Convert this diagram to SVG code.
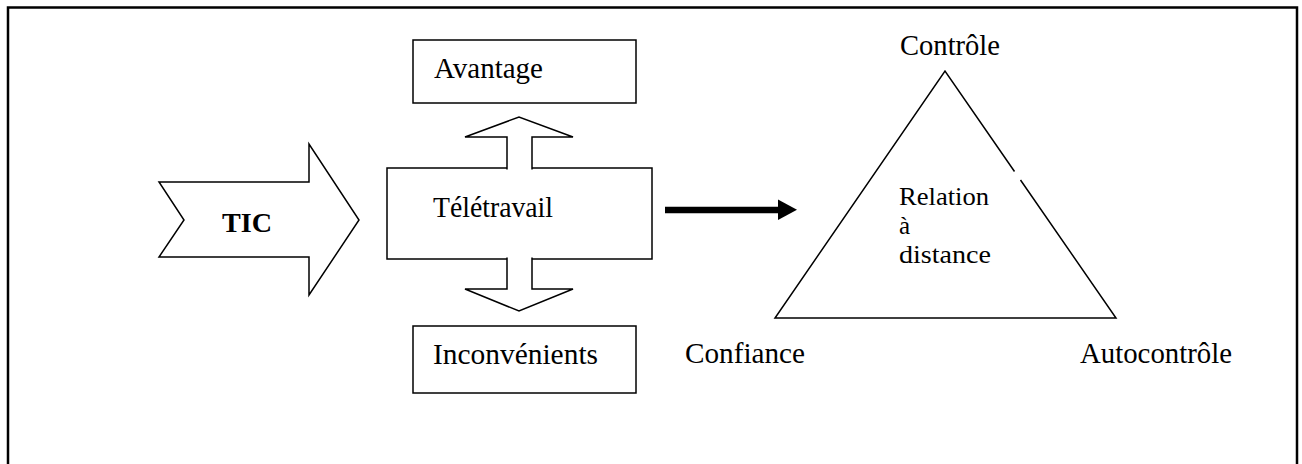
<svg xmlns="http://www.w3.org/2000/svg" width="1302" height="464" viewBox="0 0 1302 464">
  <style>
    .t { font-family: "Liberation Serif", "Times New Roman", serif; font-size: 30px; fill: #000; }
    .tb { font-family: "Liberation Serif", "Times New Roman", serif; font-size: 28px; font-weight: bold; fill: #000; }
    .ti { font-family: "Liberation Serif", "Times New Roman", serif; font-size: 25px; fill: #000; }
    .shape { fill: #fff; stroke: #000; stroke-width: 1.5; stroke-linejoin: miter; }
    .line { fill: none; stroke: #000; stroke-width: 1.5; }
  </style>
  <rect width="1302" height="464" fill="#fff"/>
  <g id="frame">
    <path d="M8,470 V7.5 H1297 V470" fill="none" stroke="#000" stroke-width="2.5"/>
  </g>
  <g id="tic">
    <polygon class="shape" points="159,182 309,182 309,144 359,220 309,295 309,257 159,257 184,220"/>
    <text class="tb" x="222" y="232" textLength="50" lengthAdjust="spacingAndGlyphs">TIC</text>
  </g>
  <g id="avantage">
    <rect class="shape" x="413" y="40" width="223" height="63"/>
    <text class="t" x="434" y="78" textLength="109" lengthAdjust="spacingAndGlyphs">Avantage</text>
  </g>
  <g id="teletravail">
    <rect class="shape" x="387" y="168" width="265" height="91"/>
    <text class="t" x="433" y="217" textLength="120" lengthAdjust="spacingAndGlyphs">Télétravail</text>
  </g>
  <g id="inconvenients">
    <rect class="shape" x="413" y="326" width="223" height="67"/>
    <text class="t" x="433" y="364" textLength="165" lengthAdjust="spacingAndGlyphs">Inconvénients</text>
  </g>
  <g id="connectors">
    <path class="shape" d="M507,169.6 V137 H465 L519,117 L573,137 H532 V169.6"/>
    <path class="shape" d="M507,257.4 V289 H465 L519,311 L573,289 H532 V257.4"/>
    <line x1="665" y1="210" x2="779" y2="210" stroke="#000" stroke-width="6.6"/>
    <polygon points="778,199.5 797,209.8 778,220" fill="#000"/>
  </g>
  <g id="relation">
    <path class="line" d="M1014.5,171.5 L945,71 L775,318 H1116 L1020.5,180"/>
    <text class="ti" x="899" y="205" textLength="90" lengthAdjust="spacingAndGlyphs">Relation</text>
    <text class="ti" x="899" y="234">à</text>
    <text class="ti" x="899" y="263" textLength="92" lengthAdjust="spacingAndGlyphs">distance</text>
  </g>
  <g id="controle">
    <text class="t" x="900" y="55" textLength="100" lengthAdjust="spacingAndGlyphs">Contrôle</text>
  </g>
  <g id="confiance">
    <text class="t" x="685" y="363" textLength="120" lengthAdjust="spacingAndGlyphs">Confiance</text>
  </g>
  <g id="autocontrole">
    <text class="t" x="1080" y="363" textLength="152" lengthAdjust="spacingAndGlyphs">Autocontrôle</text>
  </g>
</svg>
